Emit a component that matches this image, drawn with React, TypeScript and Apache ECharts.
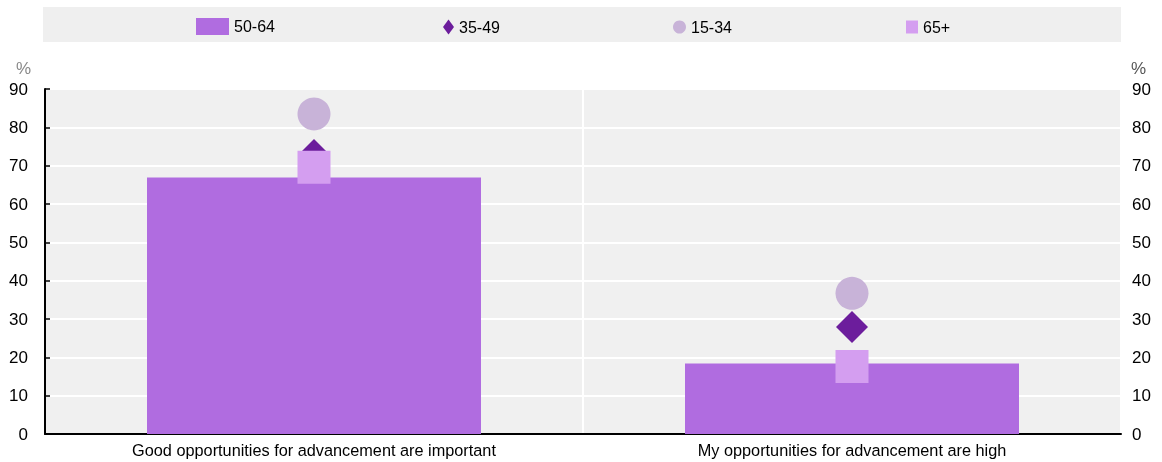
import React, { useEffect, useRef } from "react";
import * as echarts from "echarts";

const categories = [
  "Good opportunities for advancement are important",
  "My opportunities for advancement are high",
];
const age5064 = [66.9, 18.4];
const age3549 = [72.8, 27.9];
const age1534 = [83.5, 36.7];
const age65p = [69.6, 17.6];
const yTicks = [0, 10, 20, 30, 40, 50, 60, 70, 80, 90];

const FONT = "'Liberation Sans', Arial, sans-serif";
const C_BAR = "#b06ce0";
const C_DIAMOND = "#6c1d9c";
const C_CIRCLE = "#c8b3d8";
const C_SQUARE = "#d49ef0";

export default function App() {
  const ref = useRef<HTMLDivElement>(null);
  useEffect(() => {
    if (!ref.current) return;
    const chart = echarts.init(ref.current, null, { renderer: "svg" });
    const legendBase = {
      orient: "horizontal",
      textStyle: { fontSize: 16, color: "#000", fontFamily: FONT },
      selectedMode: false,
    };
    chart.setOption({
      animation: false,
      textStyle: { fontFamily: FONT },
      graphic: [
        {
          type: "rect",
          shape: { x: 43, y: 7, width: 1078, height: 35 },
          style: { fill: "#efefef" },
          z: -10,
        },
        {
          type: "text",
          x: 16,
          y: 60,
          style: { text: "%", fontSize: 17, fill: "#888", fontFamily: FONT },
        },
        {
          type: "text",
          x: 1131,
          y: 60,
          style: { text: "%", fontSize: 17, fill: "#555", fontFamily: FONT },
        },
      ],
      legend: [
        { ...legendBase, data: [{ name: "50-64", icon: "rect" }], left: 191, top: 13, itemWidth: 33, itemHeight: 17 },
        { ...legendBase, data: [{ name: "35-49", icon: "diamond" }], left: 438, top: 14, itemWidth: 11, itemHeight: 15 },
        { ...legendBase, data: [{ name: "15-34", icon: "circle" }], left: 668, top: 14, itemWidth: 13, itemHeight: 13 },
        { ...legendBase, data: [{ name: "65+", icon: "rect" }], left: 901, top: 14, itemWidth: 12, itemHeight: 13 },
      ],
      grid: { left: 45, right: 41, top: 89, bottom: 28, show: true, backgroundColor: "#f0f0f0", borderWidth: 0 },
      xAxis: {
        type: "category",
        data: categories,
        axisLine: { show: true, lineStyle: { color: "#000", width: 2 } },
        axisTick: { show: false },
        axisLabel: { fontSize: 16.3, color: "#000", margin: 8, fontFamily: FONT, interval: 0 },
        splitLine: { show: true, lineStyle: { color: "#fff", width: 2 } },
      },
      yAxis: [
        {
          type: "value",
          min: 0,
          max: 90,
          interval: 10,
          position: "left",
          axisLine: { show: true, lineStyle: { color: "#000", width: 2 } },
          axisTick: { show: true, inside: true, length: 5, lineStyle: { color: "#000", width: 1.5 } },
          axisLabel: {
            fontSize: 17,
            color: "#000",
            margin: 17,
            fontFamily: FONT,
            formatter: (v: number) => (yTicks.includes(v) ? String(v) : ""),
          },
          splitLine: { show: true, lineStyle: { color: "#fff", width: 2 } },
        },
        {
          type: "value",
          min: 0,
          max: 90,
          interval: 10,
          position: "right",
          axisLine: { show: false },
          axisTick: { show: false },
          axisLabel: { fontSize: 17, color: "#000", margin: 11, fontFamily: FONT },
          splitLine: { show: false },
        },
      ],
      series: [
        {
          name: "50-64",
          type: "bar",
          data: age5064,
          barWidth: 334,
          itemStyle: { color: C_BAR },
          z: 2,
        },
        {
          name: "15-34",
          type: "scatter",
          data: age1534,
          symbol: "circle",
          symbolSize: 33,
          itemStyle: { color: C_CIRCLE, opacity: 1 },
          z: 3,
        },
        {
          name: "35-49",
          type: "scatter",
          data: age3549,
          symbol: "diamond",
          symbolSize: 32,
          itemStyle: { color: C_DIAMOND, opacity: 1 },
          z: 4,
        },
        {
          name: "65+",
          type: "scatter",
          data: age65p,
          symbol: "rect",
          symbolSize: 33,
          itemStyle: { color: C_SQUARE, opacity: 1 },
          z: 5,
        },
      ],
    });
    return () => chart.dispose();
  }, []);
  return (
    <div
      ref={ref}
      style={{ position: "fixed", left: 0, top: 0, width: 1162, height: 462 }}
    />
  );
}
